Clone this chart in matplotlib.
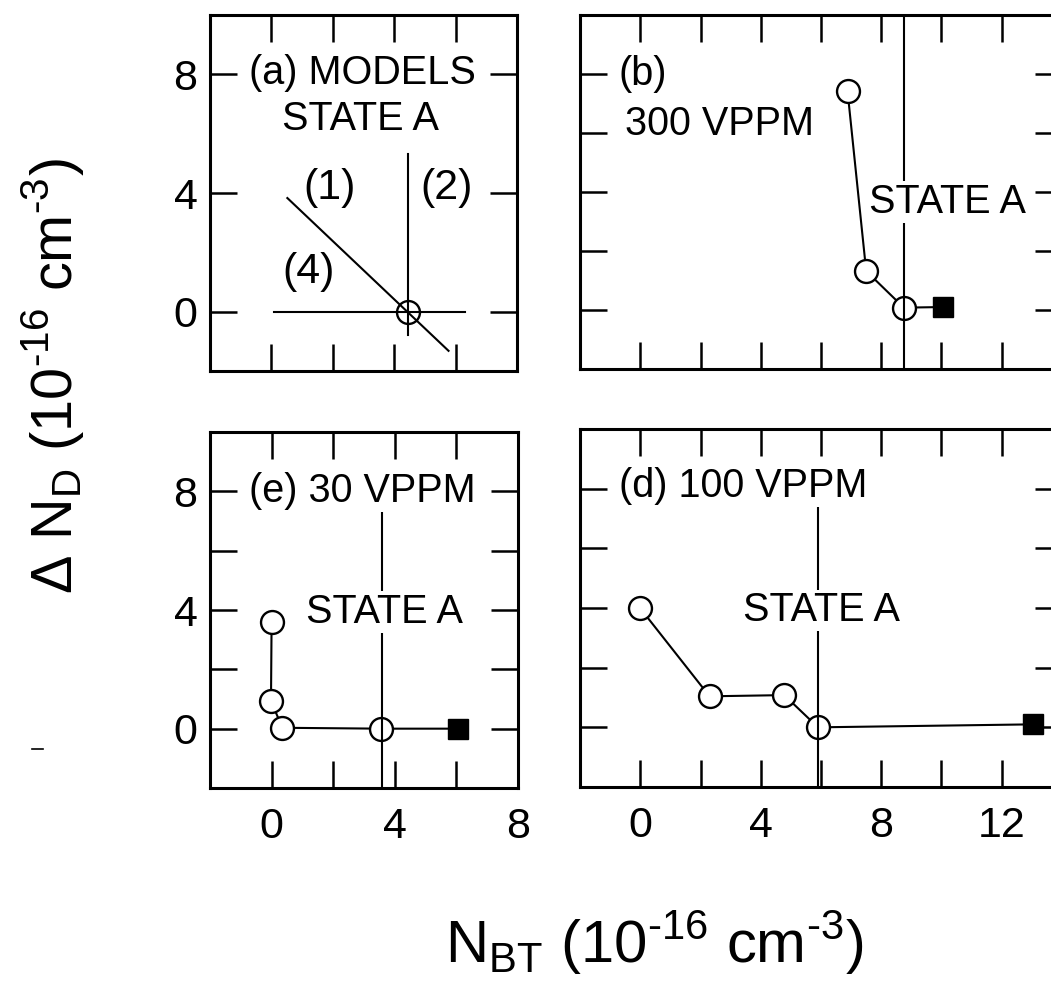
import matplotlib.pyplot as plt
from matplotlib.ticker import FuncFormatter
from matplotlib.lines import Line2D

plt.rcParams['font.family'] = ['Liberation Sans', 'DejaVu Sans']


# Model lines for panel (a): (1) sloped, (2) vertical, (4) horizontal
model1_x = [0.52, 5.77]
model1_y = [3.83, -1.32]
model2_x = [4.46, 4.46]
model2_y = [5.3, -0.8]
model4_x = [0.1, 6.3]
model4_y = [0.0, 0.0]
state_a_model = (4.46, 0.0)

# Measured points (open circles) and the final point (filled square)
b_x = [6.88, 7.5, 8.75]
b_y = [7.43, 1.32, 0.08]
b_end = (10.04, 0.1)
b_state_x = 8.75

e_x = [0.0, -0.02, 0.35, 3.56]
e_y = [3.6, 0.93, 0.03, 0.0]
e_end = (6.06, 0.0)
e_state_x = 3.58

d_x = [0.0, 2.3, 4.78, 5.9]
d_y = [3.99, 1.04, 1.08, 0.0]
d_end = (13.04, 0.1)
d_state_x = 5.9

W, H = 1051, 991
fig = plt.figure(figsize=(W / 100, H / 100), dpi=100)


def px_axes(left, top, right, bottom):
    return fig.add_axes([left / W, 1 - bottom / H, (right - left) / W, (bottom - top) / H])


ax_a = px_axes(210, 15, 517, 371)
ax_b = px_axes(580, 15, 1062, 369)
ax_e = px_axes(210, 432, 518, 788)
ax_d = px_axes(580, 429, 1062, 787)

tick_fmt = FuncFormatter(lambda v, p: f"{v:.0f}" if round(v) % 4 == 0 else "")

for ax in (ax_a, ax_b, ax_e, ax_d):
    ax.set_ylim(-2, 10)
    for s in ax.spines.values():
        s.set_linewidth(2.2)
    ax.tick_params(direction='in', length=19.5, width=1.8, top=True, right=True,
                   labelsize=31)
    ax.tick_params(axis='x', pad=14)
    ax.tick_params(axis='y', pad=9)
    ax.yaxis.set_major_formatter(tick_fmt)
    ax.xaxis.set_major_formatter(tick_fmt)

for ax in (ax_a, ax_e):
    ax.set_xlim(-2, 8)
    ax.set_xticks([0, 2, 4, 6, 8])
for ax in (ax_b, ax_d):
    ax.set_xlim(-2, 14)
    ax.set_xticks([0, 2, 4, 6, 8, 10, 12])
    ax.tick_params(labelleft=False)

ax_a.set_yticks([0, 4, 8])
for ax in (ax_b, ax_e, ax_d):
    ax.set_yticks([0, 2, 4, 6, 8])
for ax in (ax_a, ax_b):
    ax.tick_params(labelbottom=False)

circ = dict(marker='o', markersize=16.5, markerfacecolor='white',
            markeredgecolor='black', markeredgewidth=1.7)
label_kw = dict(fontsize=28.5, va='center')
paren_kw = dict(fontsize=31, va='center', ha='center')
box = dict(facecolor='white', edgecolor='none', pad=1)

# (a) models
ax_a.plot(model1_x, model1_y, color='black', lw=1.5)
ax_a.plot(model2_x, model2_y, color='black', lw=1.5)
ax_a.plot(model4_x, model4_y, color='black', lw=1.5)
ax_a.plot(*state_a_model, marker='o', markersize=16.5, markerfacecolor='none',
          markeredgecolor='black', markeredgewidth=1.7, zorder=5)
ax_a.text(2.95, 8.03, "(a) MODELS", ha='center', **label_kw)
ax_a.text(2.9, 6.5, "STATE A", ha='center', **label_kw)
ax_a.text(1.9, 4.17, "(1)", **paren_kw)
ax_a.text(5.7, 4.17, "(2)", **paren_kw)
ax_a.text(1.2, 1.35, "(4)", **paren_kw)

# (b) 300 VPPM
ax_b.plot(b_x + [b_end[0]], b_y + [b_end[1]], color='black', lw=1.5, zorder=2)
ax_b.plot(b_x, b_y, ls='none', zorder=3, **circ)
ax_b.plot(*b_end, ls='none', marker='s', markersize=14.5, color='black', zorder=3)
ax_b.vlines(b_state_x, -2, 10, color='black', lw=1.5, zorder=4)
ax_b.text(-0.72, 8.0, "(b)", ha='left', **label_kw)
ax_b.text(-0.49, 6.3, "300 VPPM", ha='left', **label_kw)
ax_b.text(10.2, 3.66, "STATE A", ha='center', bbox=box, zorder=6, **label_kw)

# (e) 30 VPPM
ax_e.plot(e_x + [e_end[0]], e_y + [e_end[1]], color='black', lw=1.5, zorder=2)
ax_e.plot(e_x, e_y, ls='none', zorder=3, **circ)
ax_e.plot(*e_end, ls='none', marker='s', markersize=14.5, color='black', zorder=3)
ax_e.vlines(e_state_x, -2, 7.3, color='black', lw=1.5, zorder=4)
ax_e.text(2.93, 8.0, "(e) 30 VPPM", ha='center', **label_kw)
ax_e.text(3.67, 3.93, "STATE A", ha='center', bbox=box, zorder=6, **label_kw)

# (d) 100 VPPM
ax_d.plot(d_x + [d_end[0]], d_y + [d_end[1]], color='black', lw=1.5, zorder=2)
ax_d.plot(d_x, d_y, ls='none', zorder=3, **circ)
ax_d.plot(*d_end, ls='none', marker='s', markersize=14.5, color='black', zorder=3)
ax_d.vlines(d_state_x, -2, 7.4, color='black', lw=1.5, zorder=4)
ax_d.text(-0.72, 8.1, "(d) 100 VPPM", ha='left', **label_kw)
ax_d.text(6.03, 3.93, "STATE A", ha='center', bbox=box, zorder=6, **label_kw)

# shared axis labels (hyphen instead of the long math minus)
fig.text(53 / W, 1 - 376 / H,
         "\u0394 N$_\\mathregular{D}$ (10$^\\mathregular{\u201016}$ cm$^\\mathregular{\u20103}$)",
         rotation=90, ha='center', va='center', fontsize=41.5)
fig.text(654 / W, 1 - 943 / H,
         "N$_\\mathregular{BT}$ (10$^\\mathregular{\u201016}$ cm$^\\mathregular{\u20103}$)",
         ha='center', va='center', fontsize=43)

# small stray dash at the left margin
fig.add_artist(Line2D([32 / W, 43 / W], [1 - 749 / H, 1 - 749 / H],
                      color='black', lw=1.2))

fig.savefig('out.png', dpi=100)
